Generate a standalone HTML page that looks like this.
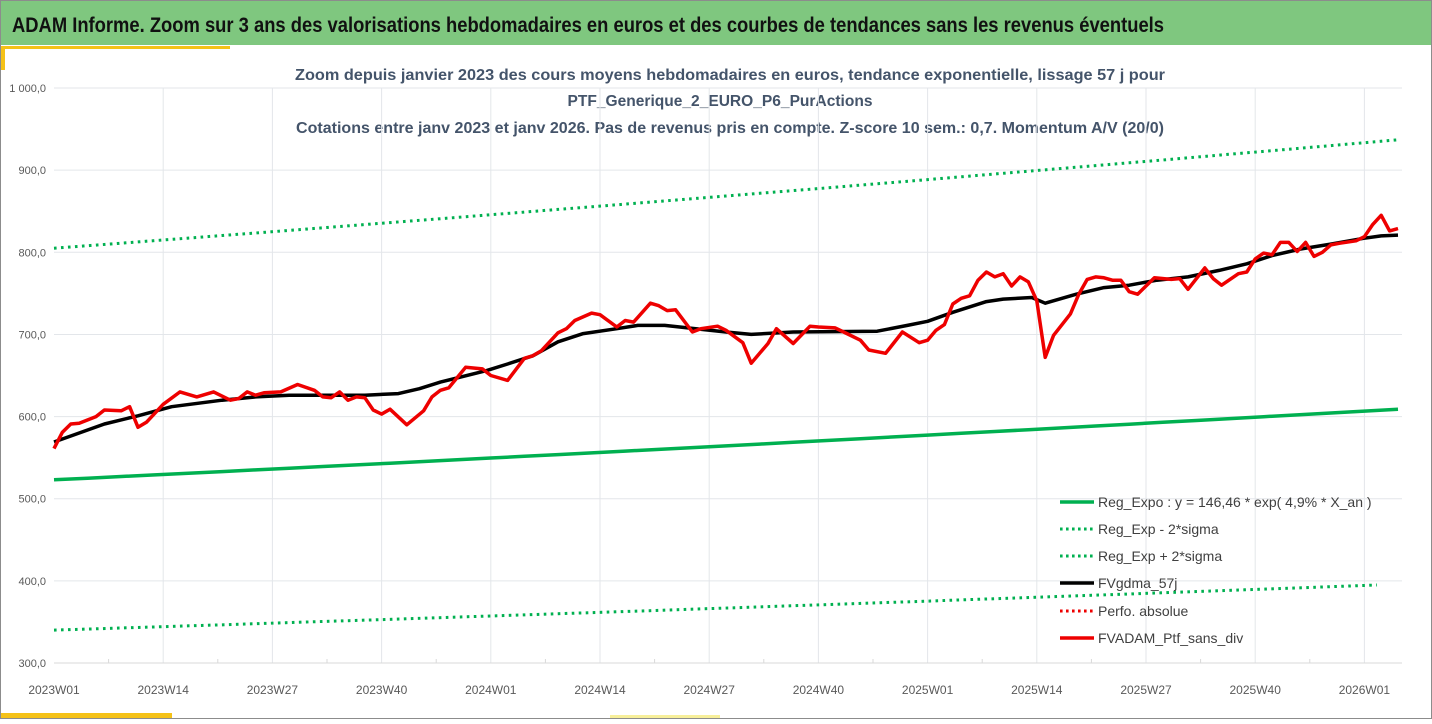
<!DOCTYPE html>
<html><head><meta charset="utf-8">
<style>
html,body{margin:0;padding:0;background:#fff;}
body{width:1432px;height:719px;overflow:hidden;font-family:"Liberation Sans",sans-serif;}
svg text{font-family:"Liberation Sans",sans-serif;}
</style></head>
<body>
<svg id="chart" width="1432" height="719" viewBox="0 0 1432 719" xmlns="http://www.w3.org/2000/svg">
  <rect x="0.5" y="0.5" width="1431" height="718" fill="#fff" stroke="#8c8c8c"/>
  <rect x="1" y="1" width="1430" height="44" fill="#7fc77f"/>
  <text x="12" y="32" font-size="21" font-weight="bold" fill="#111" textLength="1152" lengthAdjust="spacingAndGlyphs">ADAM Informe. Zoom sur 3 ans des valorisations hebdomadaires en euros et des courbes de tendances sans les revenus éventuels</text>
  <rect x="1" y="46" width="229" height="3" fill="#f5c218"/>
  <rect x="1" y="46" width="4" height="24" fill="#f5c218"/>
  <rect x="1" y="713" width="171" height="5" fill="#f5c218"/>
  <rect x="610" y="715" width="110" height="3" fill="#f7ef9a"/>
  <g fill="#44546a" font-size="16" font-weight="bold" text-anchor="middle">
    <text x="730" y="80" textLength="870" lengthAdjust="spacingAndGlyphs">Zoom depuis janvier 2023 des cours moyens hebdomadaires  en euros, tendance exponentielle, lissage 57 j pour</text>
    <text x="720" y="106" textLength="305" lengthAdjust="spacingAndGlyphs">PTF_Generique_2_EURO_P6_PurActions</text>
    <text x="730" y="133" textLength="868" lengthAdjust="spacingAndGlyphs">Cotations entre janv 2023 et janv 2026. Pas de revenus pris en compte. Z-score 10 sem.: 0,7. Momentum A/V (20/0)</text>
  </g>
  <g id="grid"></g>
  <g id="axes"></g>
  <g id="series"></g>
  <g id="legend"></g>
</svg>
<script>
const xTickLabels = ["2023W01","2023W14","2023W27","2023W40","2024W01","2024W14","2024W27","2024W40","2025W01","2025W14","2025W27","2025W40","2026W01"];
const yTicks = [300,400,500,600,700,800,900,1000];
const yTickLabels = ["300,0","400,0","500,0","600,0","700,0","800,0","900,0","1 000,0"];
const redWeeks = [0,1,2,3,5,6,8,9,10,11,13,15,17,19,21,22,23,24,25,27,29,31,32,33,34,35,36,37,38,39,40,42,44,45,46,47,49,51,52,54,56,57,58,60,61,62,64,65,67,68,69,71,72,73,74,76,77,79,80,82,83,85,86,88,90,91,93,94,96,97,99,101,103,104,105,106,107,108,109,110,111,112,113,114,115,116,117,118,119,121,122,123,124,125,126,127,128,129,131,133,134,135,137,138,139,141,142,143,144,145,146,147,148,149,150,151,152,153,155,156,157,158,159,160];
const redValues = [561,581,591,592,600,608,607,612,587,593,615,630,624,630,620,622,630,626,629,630,639,632,624,623,630,620,624,623,608,603,609,590,607,624,632,635,660,658,650,644,671,674,680,702,707,717,726,724,709,717,715,738,735,729,730,703,707,710,705,690,665,689,707,689,710,709,708,703,693,681,677,703,690,693,705,712,737,744,747,766,776,770,774,759,770,764,741,672,699,725,749,767,770,769,766,766,752,749,769,767,768,755,781,768,760,774,776,792,799,797,812,812,801,812,795,800,809,811,814,819,834,845,826,829];
const blackWeeks = [0,6,10,14,20,24,28,37,41,43.5,46,51.5,54,57,60,63,67,69.5,72.7,76.4,80,83,88,98,101.6,104,107,111,113,116.4,118,121.7,125,128,131.3,135,138.7,142,145,148.4,152,155.9,158,160];
const blackValues = [569,591,601,612,620,624,626,626,628,634,642,656,664,674,691,701,707,711,711,707,703,700,703,704,711,716,727,740,743,745,738,749,757,760,766,770,778,786,796,804,810,817,820,821];
const regWeeks = [0,160];
const regValues = [523,609];
const lowWeeks = [0,157.5];
const lowValues = [340,395];
const highWeeks = [0,160];
const highValues = [805,937];

const NS = "http://www.w3.org/2000/svg";
const X0 = 54, PXW = 8.4, Y300 = 663, PXV = 0.8214;
function xs(w){ return X0 + w*PXW; }
function ys(v){ return Y300 - (v-300)*PXV; }
function mk(tag, attrs, parent){
  const e = document.createElementNS(NS, tag);
  for (const k in attrs) e.setAttribute(k, attrs[k]);
  parent.appendChild(e); return e;
}
const grid = document.getElementById('grid');
const axes = document.getElementById('axes');
const series = document.getElementById('series');
const legend = document.getElementById('legend');
const XEND = 1402;

yTicks.forEach((v,i)=>{
  if (v>300){
    const l = mk('line',{x1:X0,x2:XEND,y1:ys(v),y2:ys(v),stroke:'#e3e6ea','stroke-width':1},grid);
    
    
  }
  const t = mk('text',{x:46,y:ys(v)+4,'font-size':11,fill:'#595959','text-anchor':'end'},axes);
  t.textContent = yTickLabels[i];
  
  
});
xTickLabels.forEach((lab,i)=>{
  const x = xs(i*13);
  if (i>0){
    const l = mk('line',{x1:x,x2:x,y1:ys(1000),y2:ys(300),stroke:'#e3e6ea','stroke-width':1},grid);
    
    
  }
  const t = mk('text',{x:x,y:694,'font-size':12,fill:'#595959','text-anchor':'middle'},axes);
  t.textContent = lab;
  
  
});
for (let w=6.5; xs(w)<XEND; w+=13){
  const tk = mk('line',{x1:xs(w),x2:xs(w),y1:ys(300)-4,y2:ys(300),stroke:'#d9d9d9'},axes);
  
  
}
const ax = mk('line',{x1:X0,x2:XEND,y1:ys(300),y2:ys(300),stroke:'#d9d9d9','stroke-width':1},axes);



function pts(ws, vs){ return ws.map((w,i)=>xs(w).toFixed(1)+','+ys(vs[i]).toFixed(1)).join(' '); }
function expPts(ws, vs){
  const a=[], n=40, w0=ws[0], w1=ws[1], r=Math.log(vs[1]/vs[0])/(w1-w0);
  for(let i=0;i<=n;i++){ const w=w0+(w1-w0)*i/n; a.push(xs(w).toFixed(1)+','+ys(vs[0]*Math.exp(r*(w-w0))).toFixed(1)); }
  return a.join(' ');
}
const dot = {'stroke-dasharray':'2.6 4.4','stroke-width':3,stroke:'#00b050',fill:'none'};
const pHigh = mk('polyline',Object.assign({points:expPts(highWeeks,highValues)},dot),series);


const pLow = mk('polyline',Object.assign({points:expPts(lowWeeks,lowValues)},dot),series);


const pReg = mk('polyline',{points:expPts(regWeeks,regValues),stroke:'#00b050','stroke-width':3.5,fill:'none'},series);


const pBlack = mk('polyline',{points:pts(blackWeeks,blackValues),stroke:'#000','stroke-width':3.5,fill:'none','stroke-linejoin':'round'},series);


const pRed = mk('polyline',{points:pts(redWeeks,redValues),stroke:'#ee0000','stroke-width':3.5,fill:'none','stroke-linejoin':'round'},series);



const legItems = [
  ['Reg_Expo : y = 146,46 * exp( 4,9% *  X_an )','#00b050',false,502],
  ['Reg_Exp - 2*sigma','#00b050',true,529],
  ['Reg_Exp + 2*sigma','#00b050',true,556],
  ['FVgdma_57j','#000',false,583],
  ['Perfo. absolue','#ee0000',true,611],
  ['FVADAM_Ptf_sans_div','#ee0000',false,638]
];
legItems.forEach(it=>{
  const g = mk('g',{},legend);
  
  
  const a = {x1:1060,x2:1094,y1:it[3],y2:it[3],stroke:it[1],'stroke-width':it[2]?3:3.5};
  if (it[2]) a['stroke-dasharray']='2.6 3.4';
  const l = mk('line',a,g);
  
  
  const t = mk('text',{x:1098,y:it[3]+5,'font-size':14,fill:'#404040'},g);
  t.textContent = it[0];
  
  
});
</script>
</body></html>
